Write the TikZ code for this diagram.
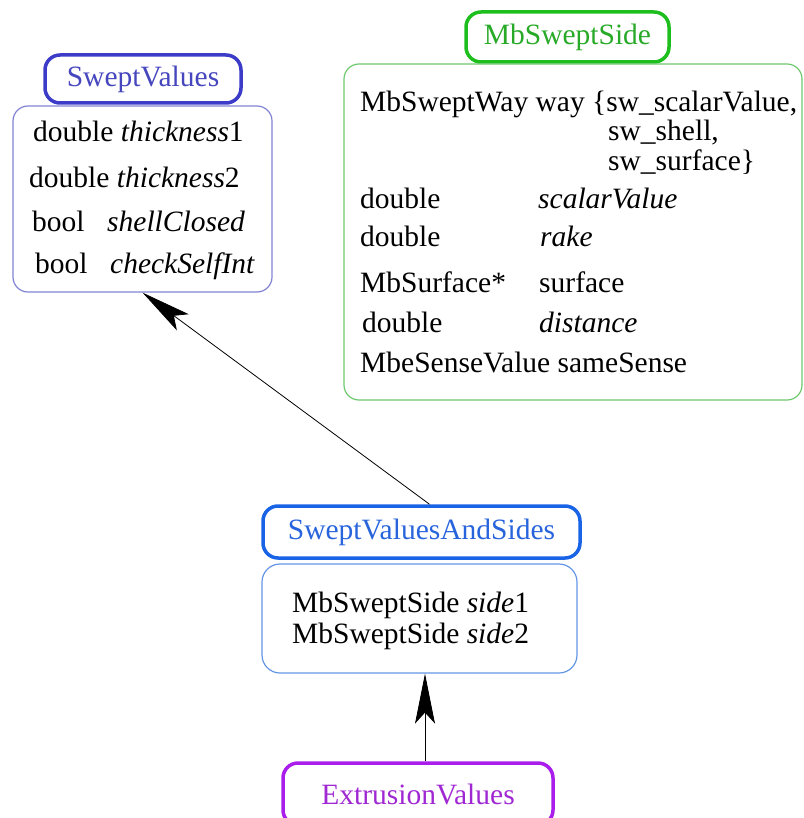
\documentclass[tikz,border=0pt]{standalone}
\usepackage{fontspec}
\setmainfont{Liberation Serif}
\usetikzlibrary{shapes.geometric, arrows.meta, positioning}
\usepackage{xcolor}

\definecolor{svblue}{RGB}{60,60,200}
\definecolor{svtext}{RGB}{70,70,190}
\definecolor{svline}{RGB}{130,130,210}
\definecolor{mssgreen}{RGB}{30,190,30}
\definecolor{msstext}{RGB}{40,170,40}
\definecolor{mssline}{RGB}{110,200,110}
\definecolor{swasblue}{RGB}{25,100,230}
\definecolor{swastext}{RGB}{40,100,220}
\definecolor{swasline}{RGB}{100,150,230}
\definecolor{extpurple}{RGB}{170,30,235}
\definecolor{exttext}{RGB}{160,40,210}

\begin{document}
\begin{tikzpicture}[x=1pt, y=-1pt, font=\fontsize{29.5}{35}\selectfont]

    \tikzstyle{title} = [rectangle, rounded corners=15pt, line width=3.5pt, inner sep=0pt]
    \tikzstyle{body} = [rectangle, rounded corners=15pt, line width=1.2pt]
    \tikzstyle{row} = [anchor=base west, inner sep=0pt]
    \tikzstyle{arrow} = [line width=0.8pt, -{Stealth[length=50pt, width=20pt, inset=11pt]}]

    \useasboundingbox (0,0) rectangle (803,818);

    % SweptValues
    \node (svtitle) [title, draw=svblue, text=svtext, minimum width=196pt, minimum height=48pt] at (143,79) {SweptValues};
    \node (svbody) [body, draw=svline, minimum width=259pt, minimum height=186pt] at (142.5,199) {};
    \node (sv1) [row] at (33,142) {double \textit{thickness}1};
    \node (sv2) [row] at (29,188) {double \textit{thickness}2};
    \node (sv3a) [row] at (32,232) {bool};
    \node (sv3b) [row] at (107,232) {\textit{shellClosed}};
    \node (sv4a) [row] at (35,273) {bool};
    \node (sv4b) [row] at (110,273) {\textit{checkSelfInt}};

    % MbSweptSide
    \node (msstitle) [title, draw=mssgreen, text=msstext, minimum width=203pt, minimum height=50pt] at (567.5,37) {MbSweptSide};
    \node (mssbody) [body, draw=mssline, minimum width=458pt, minimum height=336pt] at (573,232) {};
    \node (mss1) [row] at (360,112) {MbSweptWay way \{sw\_scalarValue,};
    \node (mss2) [row] at (608,141) {sw\_shell,};
    \node (mss3) [row] at (608,171) {sw\_surface\}};
    \node (mss4a) [row] at (360,208) {double};
    \node (mss4b) [row] at (538,208) {\textit{scalarValue}};
    \node (mss5a) [row] at (360,247) {double};
    \node (mss5b) [row] at (540,247) {\textit{rake}};
    \node (mss6a) [row] at (360,292) {MbSurface*};
    \node (mss6b) [row] at (539,292) {surface};
    \node (mss7a) [row] at (362,332) {double};
    \node (mss7b) [row] at (539,332) {\textit{distance}};
    \node (mss8) [row] at (360,372) {MbeSenseValue sameSense};

    % SweptValuesAndSides
    \node (swastitle) [title, draw=swasblue, text=swastext, minimum width=317pt, minimum height=52pt] at (421.5,532) {SweptValuesAndSides};
    \node (swasbody) [body, draw=swasline, rounded corners=18pt, minimum width=315pt, minimum height=109pt] at (419.5,618.5) {};
    \node (swas1) [row] at (292,612) {MbSweptSide \textit{side}1};
    \node (swas2) [row] at (292,643) {MbSweptSide \textit{side}2};

    % ExtrusionValues
    \node (exttitle) [title, draw=extpurple, text=exttext, minimum width=270pt, minimum height=62pt] at (418,794) {ExtrusionValues};

    \draw [arrow] ([xshift=8pt]swastitle.north) -- (svbody.south);
    \draw [arrow] ([xshift=7pt]exttitle.north) -- ([xshift=7pt]exttitle.north |- swasbody.south);

\end{tikzpicture}
\end{document}
